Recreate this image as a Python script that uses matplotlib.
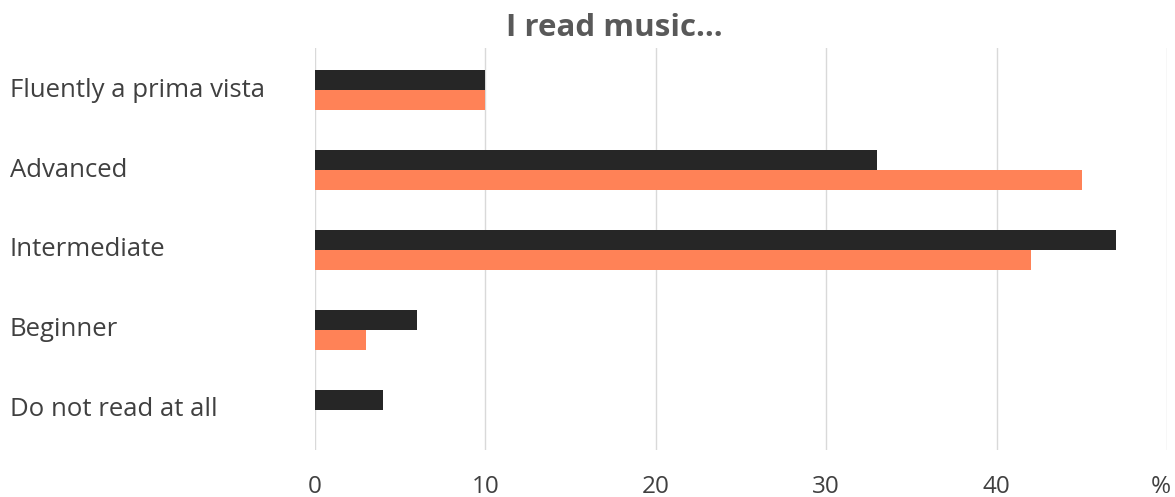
import matplotlib
matplotlib.use("Agg")
import matplotlib.pyplot as plt
from matplotlib.transforms import blended_transform_factory, ScaledTranslation
import numpy as np

categories = ["Fluently a prima vista", "Advanced", "Intermediate", "Beginner", "Do not read at all"]
series_dark = [10, 33, 47, 6, 4]
series_orange = [10, 45, 42, 3, 0]
x_ticks = [0, 10, 20, 30, 40, 50]
x_tick_labels = ["0", "10", "20", "30", "40", "%"]

plt.rcParams["font.family"] = ["Open Sans", "DejaVu Sans"]
TEXT = "#404040"

fig = plt.figure(figsize=(11.75, 4.97), dpi=100)
ax = fig.add_axes([315 / 1175, 1 - 450 / 497, (1167 - 315) / 1175, (450 - 48) / 497])

y = np.arange(len(categories))
h = 0.25
ax.barh(y - h / 2, series_dark, height=h, color="#262626", zorder=3)
ax.barh(y + h / 2, series_orange, height=h, color="#FF8257", zorder=3)

ax.set_xlim(0, 50)
ax.set_ylim(4.5, -0.525)

ax.set_xticks(x_ticks)
ax.set_xticklabels(x_tick_labels, fontsize=17.5, color=TEXT)
ax.tick_params(axis="x", length=0, pad=18)
ax.grid(axis="x", color="#d9d9d9", linewidth=1, zorder=0)

# keep the unit label inside the right edge of the figure
unit_label = ax.get_xticklabels()[-1]
unit_label.set_transform(unit_label.get_transform()
                         + ScaledTranslation(-6 / 100, 0, fig.dpi_scale_trans))

ax.set_yticks([])
trans = blended_transform_factory(fig.transFigure, ax.transData)
for yi, label in zip(y, categories):
    ax.text(10 / 1175, yi, label, transform=trans, ha="left", va="center",
            fontsize=18.5, color=TEXT)

for s in ax.spines.values():
    s.set_visible(False)

fig.text(614 / 1175, 1 - 28 / 497, "I read music...", ha="center", va="center",
         fontsize=22.5, fontweight="bold", color="#595959")

fig.savefig("out.png", dpi=100)
